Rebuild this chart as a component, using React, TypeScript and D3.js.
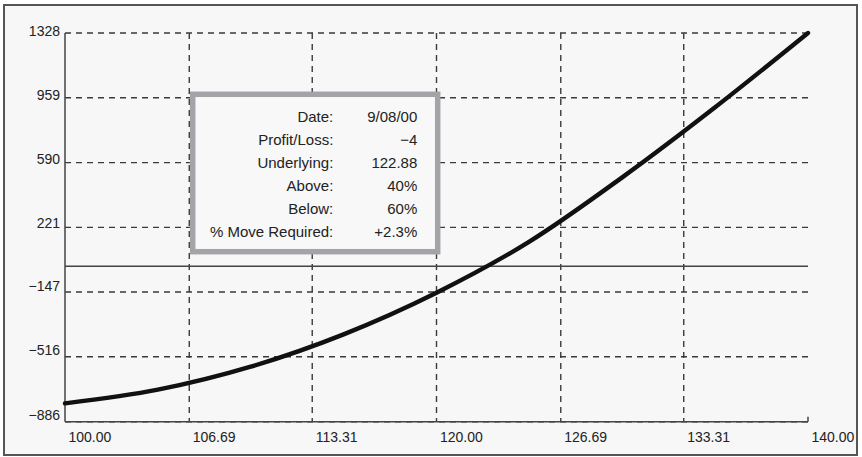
import React from "react";
import * as d3 from "d3";

const underlying = [100, 105, 110, 115, 120, 125, 130, 135, 140];
const profitLoss = [-781, -703, -572, -388, -151, 140, 506, 905, 1328];

const yTicks = [1328, 959, 590, 221, -147, -516, -886];
const xTicks = [100, 106.69, 113.31, 120, 126.69, 133.31, 140];

const infoLabels = ["Date:", "Profit/Loss:", "Underlying:", "Above:", "Below:", "% Move Required:"];
const infoValues = ["9/08/00", "\u22124", "122.88", "40%", "60%", "+2.3%"];

const W = 862;
const H = 457;
const FONT = "'Liberation Sans', Arial, sans-serif";

function fmtY(v: number) {
  return v < 0 ? "\u2212" + Math.abs(v) : String(v);
}

export default function App() {
  const left = 65, right = 808, top = 33, bottom = 421.8;
  const x = d3.scaleLinear().domain([100, 140]).range([left, right]);
  const y = d3.scaleLinear().domain([-886, 1328]).range([bottom, top]);
  const yLab = d3.scaleLinear().domain([-886, 1328]).range([419.5, 36]);

  const pts = underlying.map((u, i) => [u, profitLoss[i]] as [number, number]);
  const line = d3
    .line<[number, number]>()
    .x((d) => x(d[0]))
    .y((d) => y(d[1]))
    .curve(d3.curveMonotoneX);

  const grid = "#3a3a3a";
  const dash = "6,5";

  const box = { x: 192.7, y: 94.3, w: 245, h: 157.4 };
  const rowY = (i: number) => 122.3 + i * 22.9;

  return (
    <svg
      width={W}
      height={H}
      style={{ position: "absolute", left: 0, top: 0, background: "#ffffff" }}
      fontFamily={FONT}
    >
      <rect x={4} y={5} width={853} height={450} fill="#f7f7f7" stroke="#555" strokeWidth={2} />

      {/* horizontal grid */}
      {yTicks.map((t) => (
        <line
          key={"h" + t}
          x1={left}
          x2={right}
          y1={y(t)}
          y2={y(t)}
          stroke={grid}
          strokeWidth={1.4}
          strokeDasharray={dash}
        />
      ))}
      {/* vertical grid */}
      {xTicks.slice(1, -1).map((t) => (
        <line
          key={"v" + t}
          x1={x(t)}
          x2={x(t)}
          y1={top}
          y2={bottom}
          stroke={grid}
          strokeWidth={1.4}
          strokeDasharray={dash}
        />
      ))}

      {/* axes */}
      <line x1={left} x2={left} y1={top} y2={bottom} stroke="#444" strokeWidth={1.5} />
      <line x1={left} x2={right} y1={bottom} y2={bottom} stroke="#444" strokeWidth={1.5} />
      <line x1={x(140)} x2={x(140)} y1={bottom - 5} y2={bottom} stroke="#444" strokeWidth={1.5} />
      <line x1={left} x2={right} y1={y(0)} y2={y(0)} stroke="#444" strokeWidth={1.6} />

      {/* y labels */}
      {yTicks.map((t) => (
        <text key={"yl" + t} x={60} y={yLab(t)} textAnchor="end" fontSize={14} fill="#222">
          {fmtY(t)}
        </text>
      ))}
      {/* x labels */}
      {xTicks.map((t) => (
        <text key={"xl" + t} x={x(t) + 3.5} y={441.7} fontSize={14} fill="#222">
          {t.toFixed(2)}
        </text>
      ))}

      {/* curve */}
      <path d={line(pts) || ""} fill="none" stroke="#111" strokeWidth={4.4} strokeLinecap="round" />

      {/* info box */}
      <rect x={box.x} y={box.y} width={box.w} height={box.h} fill="#f8f8f8" stroke="#a4a4a8" strokeWidth={5.5} />
      {infoLabels.map((l, i) => (
        <text key={"il" + i} x={333.3} y={rowY(i)} textAnchor="end" fontSize={15} fill="#222">
          {l}
        </text>
      ))}
      {infoValues.map((v, i) => (
        <text key={"iv" + i} x={417.3} y={rowY(i)} textAnchor="end" fontSize={15} fill="#222">
          {v}
        </text>
      ))}
    </svg>
  );
}
